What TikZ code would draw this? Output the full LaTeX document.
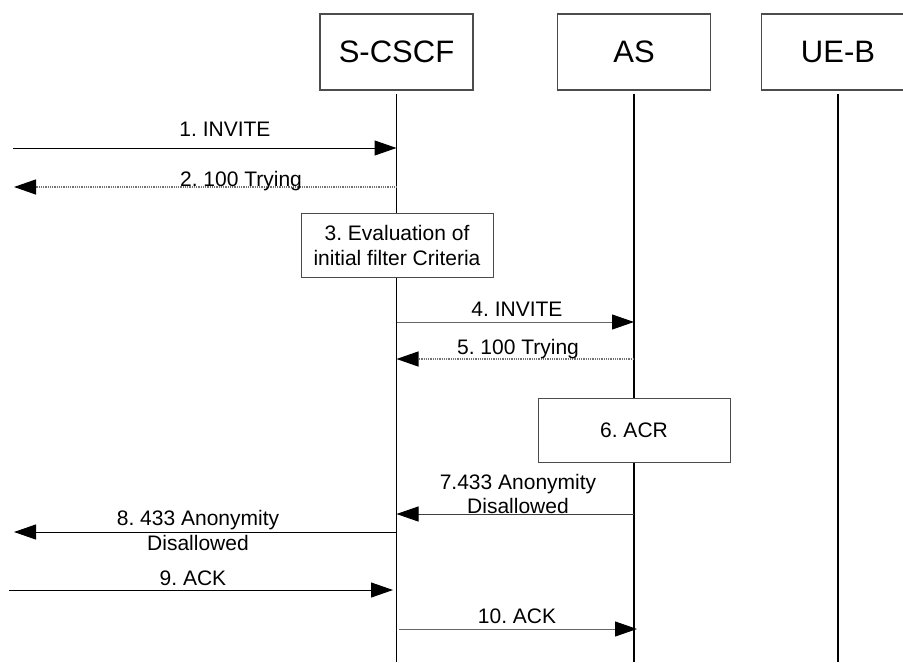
\documentclass[tikz,border=0pt]{standalone}
\usepackage{fontspec}
\setmainfont{Liberation Sans}
\usetikzlibrary{arrows.meta}
\begin{document}
\frenchspacing
\begin{tikzpicture}[x=1pt,y=-1pt,
  entity/.style={draw=black!70,line width=1.2pt,fill=white,minimum width=153pt,minimum height=76pt,inner sep=0pt,font=\fontsize{31}{36}\selectfont},
  procbox/.style={draw=black!70,line width=1pt,fill=white,minimum width=192pt,minimum height=64pt,inner sep=0pt,align=center,font=\fontsize{21}{25}\selectfont},
  lifeline/.style={line width=1.6pt,black},
  msg/.style={line width=1pt,-{Triangle[length=22pt,width=15pt,fill=black,color=black]}},
  reply/.style={line width=1.3pt,black!55,dash pattern=on 1pt off 0.8pt,-{Triangle[length=22pt,width=15pt,fill=black,color=black]}},
  lbl/.style={font=\fontsize{21}{25}\selectfont,anchor=base,inner sep=0pt,align=center}
]
\useasboundingbox (0,0) rectangle (903,662);
\clip (0,0) rectangle (903,662);
% entities
\node[entity] (sc) at (396.5,52) {S-CSCF};
\node[entity] (as) at (634,52) {AS};
\node[entity] (ue) at (838,52) {UE-B};
% lifeline ends
\coordinate (scEnd) at (396.5,662);
\coordinate (asEnd) at (634,662);
\coordinate (ueEnd) at (838,662);
\draw[lifeline] ([yshift=-3pt]sc.south) -- (scEnd);
\draw[lifeline] ([yshift=-3pt]as.south) -- (asEnd);
\draw[lifeline] ([yshift=-3pt]ue.south) -- (ueEnd);
% process boxes
\node[procbox] (p3) at (397,245) {3. Evaluation of\\initial filter Criteria};
\node[procbox] (p6) at (634,430) {6. ACR};
% message coordinates
\coordinate (l1) at (13,148);   \coordinate (s1) at (396.5,148);
\coordinate (l2) at (14,187);   \coordinate (s2) at (396.5,187);
\coordinate (s4) at (396.5,322);\coordinate (a4) at (634,322);
\coordinate (s5) at (396.5,359);\coordinate (a5) at (634,359);
\coordinate (s7) at (396.5,514);\coordinate (a7) at (634,514);
\coordinate (l8) at (14,532);   \coordinate (s8) at (396.5,532);
\coordinate (l9) at (9,590);    \coordinate (s9) at (393,590);
\coordinate (s10) at (399,629); \coordinate (a10) at (637,629);
% messages
\draw[msg] (l1) -- (s1);
\draw[reply] (s2) -- (l2);
\draw[msg,black!60] (s4) -- (a4);
\draw[reply] (a5) -- (s5);
\draw[msg,black!75] (a7) -- (s7);
\draw[msg] (s8) -- (l8);
\draw[msg] (l9) -- (s9);
\draw[msg,black!60] (s10) -- (a10);
% labels
\node[lbl] (t1) at (225,136) {1. INVITE};
\node[lbl] (t2) at (241,186) {2. 100 Trying};
\node[lbl] (t4) at (517,316) {4. INVITE};
\node[lbl] (t5) at (518,354) {5. 100 Trying};
\node[lbl] (t7a) at (518,489) {7.433 Anonymity};
\node[lbl] (t7b) at (518,513) {Disallowed};
\node[lbl] (t8a) at (198,525) {8. 433 Anonymity};
\node[lbl] (t8b) at (198,550) {Disallowed};
\node[lbl] (t9) at (193,585) {9. ACK};
\node[lbl] (t10) at (517,623) {10. ACK};
\end{tikzpicture}
\end{document}
